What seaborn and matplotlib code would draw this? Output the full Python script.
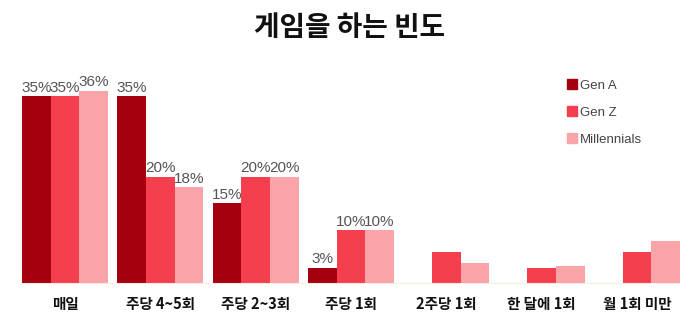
import matplotlib
matplotlib.use("Agg")
import matplotlib.pyplot as plt
import seaborn as sns
import pandas as pd
import numpy as np
from matplotlib.lines import Line2D

categories = ["매일", "주당 4~5회", "주당 2~3회", "주당 1회", "2주당 1회", "한 달에 1회", "월 1회 미만"]
series = ["Gen A", "Gen Z", "Millennials"]
gen_a = [35, 35, 15, 3, 0, 0, 0]
gen_z = [35, 20, 20, 10, 6, 3, 6]
millennials = [36, 18, 20, 10, 4, 3.3, 8]
shown_labels = {
    "Gen A": ["35%", "35%", "15%", "3%", "", "", ""],
    "Gen Z": ["35%", "20%", "20%", "10%", "", "", ""],
    "Millennials": ["36%", "18%", "20%", "10%", "", "", ""],
}
colors = ["#A50010", "#F53F4F", "#F9A4A9"]

sns.set_theme(style="white")
plt.rcParams["font.family"] = ["Noto Sans CJK KR", "DejaVu Sans"]

df = pd.DataFrame({
    "cat": categories * 3,
    "series": sum([[s] * len(categories) for s in series], []),
    "value": gen_a + gen_z + millennials,
})

fig = plt.figure(figsize=(7, 3.27), dpi=100)
ax = fig.add_axes([22 / 700, 1 - 284 / 327, 658 / 700, 224 / 327])
sns.barplot(data=df, x="cat", y="value", hue="series", palette=colors,
            width=0.9, saturation=1, ax=ax, legend=False, linewidth=0)

for cont, s in zip(ax.containers, series):
    ax.bar_label(cont, labels=shown_labels[s], padding=1, fontsize=11,
                 color="#555555", family="Liberation Sans")

ax.set_xlim(-0.45, 6.45)
ax.set_ylim(0, 41.7)
ax.axhline(0, color="#f3efd8", lw=1.5)
for sp in ax.spines.values():
    sp.set_visible(False)
ax.set_yticks([])
ax.set_xlabel("")
ax.set_ylabel("")
ax.tick_params(axis="x", length=0, pad=9, labelsize=10.5)
for t in ax.get_xticklabels():
    t.set_fontweight("bold")
    t.set_color("#111111")

fig.text(0.5, 1 - 28 / 327, "게임을 하는 빈도", ha="center", va="center",
         fontsize=20, fontweight="bold", color="#111111")

handles = [Line2D([], [], marker="s", linestyle="", markersize=7, color=c) for c in colors]
leg = ax.legend(handles, series, loc="upper left", bbox_to_anchor=(556 / 700, 1 - 68 / 327),
                bbox_transform=fig.transFigure, frameon=False, handlelength=0.6,
                handletextpad=0.3, labelspacing=1.1, fontsize=9.5)
for t in leg.get_texts():
    t.set_color("#444444")
    t.set_family("Liberation Sans")

fig.savefig("out.png", dpi=100)
